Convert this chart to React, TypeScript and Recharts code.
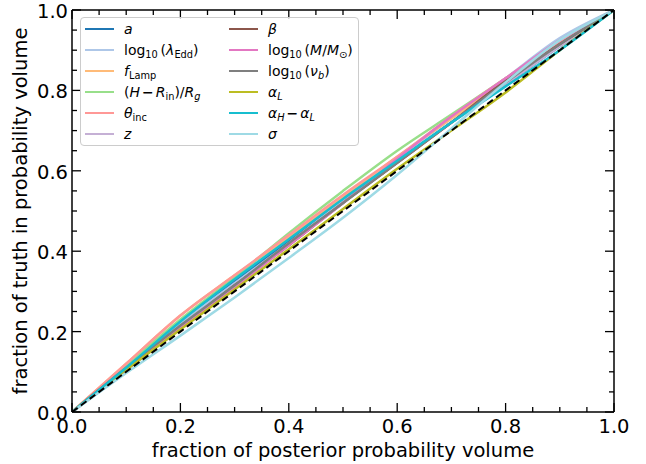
import React from 'react';
import { LineChart, Line, XAxis, YAxis, Legend } from 'recharts';

const xs = [0, 0.1, 0.2, 0.3, 0.4, 0.5, 0.6, 0.7, 0.8, 0.9, 1.0];
const diag = [0, 0.1, 0.2, 0.3, 0.4, 0.5, 0.6, 0.7, 0.8, 0.9, 1.0];
const sA = [0, 0.11, 0.22, 0.325, 0.425, 0.525, 0.625, 0.72, 0.815, 0.91, 1];
const sLam = [0, 0.11, 0.22, 0.32, 0.42, 0.525, 0.63, 0.73, 0.83, 0.93, 1];
const sFLamp = [0, 0.12, 0.24, 0.34, 0.435, 0.535, 0.635, 0.73, 0.825, 0.915, 1];
const sH = [0, 0.115, 0.23, 0.335, 0.445, 0.55, 0.65, 0.74, 0.83, 0.92, 1];
const sTheta = [0, 0.12, 0.24, 0.34, 0.44, 0.54, 0.635, 0.735, 0.83, 0.92, 1];
const sZ = [0, 0.105, 0.21, 0.315, 0.415, 0.52, 0.62, 0.72, 0.815, 0.91, 1];
const sBeta = [0, 0.105, 0.21, 0.315, 0.415, 0.52, 0.62, 0.72, 0.825, 0.915, 1];
const sLogM = [0, 0.105, 0.21, 0.31, 0.415, 0.52, 0.63, 0.735, 0.83, 0.925, 1];
const sNub = [0, 0.11, 0.215, 0.315, 0.42, 0.52, 0.62, 0.72, 0.82, 0.915, 1];
const sAlphaL = [0, 0.105, 0.205, 0.305, 0.405, 0.505, 0.605, 0.7, 0.795, 0.9, 1];
const sAlphaHL = [0, 0.11, 0.225, 0.33, 0.43, 0.53, 0.625, 0.72, 0.81, 0.9, 1];
const sSigma = [0, 0.097, 0.19, 0.285, 0.383, 0.483, 0.59, 0.705, 0.82, 0.925, 1];

const tickValues = [0, 0.05, 0.1, 0.15, 0.2, 0.25, 0.3, 0.35, 0.4, 0.45, 0.5, 0.55, 0.6, 0.65, 0.7, 0.75, 0.8, 0.85, 0.9, 0.95, 1.0];

const seriesKeys = ['a', 'lam', 'flamp', 'h', 'theta', 'z', 'beta', 'logm', 'nub', 'alphal', 'alphahl', 'sigma'];
const seriesArrays = [sA, sLam, sFLamp, sH, sTheta, sZ, sBeta, sLogM, sNub, sAlphaL, sAlphaHL, sSigma];
const colors = ['#1f77b4', '#aec7e8', '#ffbb78', '#98df8a', '#ff9896', '#c5b0d5', '#8c564b', '#e377c2', '#7f7f7f', '#bcbd22', '#17becf', '#9edae5'];

const data = xs.map((x, i) => {
  const row: any = { x, diag: diag[i] };
  seriesKeys.forEach((k, j) => { row[k] = seriesArrays[j][i]; });
  return row;
});

const FONT = '"DejaVu Sans", sans-serif';
const sub: React.CSSProperties = { fontSize: '0.7em', verticalAlign: '-0.3em', lineHeight: 0 };
const minus = <b style={{ margin: '0 2px' }}>−</b>;

const labels: React.ReactNode[] = [
  <i>a</i>,
  <span>log<span style={sub}>10</span>&#8201;(<i>λ</i><span style={sub}>Edd</span>)</span>,
  <span><i>f</i><span style={sub}>Lamp</span></span>,
  <span>(<i>H</i>{minus}<i>R</i><span style={sub}>in</span>)/<i>R</i><span style={sub}><i>g</i></span></span>,
  <span><i>θ</i><span style={sub}>inc</span></span>,
  <i>z</i>,
  <i>β</i>,
  <span>log<span style={sub}>10</span>&#8201;(<i>M</i>/<i>M</i><span style={sub}>⊙</span>)</span>,
  <span>log<span style={sub}>10</span>&#8201;(<i>ν</i><span style={sub}><i>b</i></span>)</span>,
  <span><i>α</i><span style={sub}><i>L</i></span></span>,
  <span><i>α</i><span style={sub}><i>H</i></span>{minus}<i>α</i><span style={sub}><i>L</i></span></span>,
  <i>σ</i>,
];

const isMajor = (v: number) => Math.abs(v * 5 - Math.round(v * 5)) < 1e-6;

const makeTick = (side: 'bottom' | 'top' | 'left' | 'right') => (props: any) => {
  const { x, y, payload } = props;
  const v = payload.value;
  const major = isMajor(v);
  const len = major ? 9 : 5;
  let line;
  if (side === 'bottom') line = <line x1={x} y1={y} x2={x} y2={y - len} stroke="#000" strokeWidth={1.3} />;
  else if (side === 'top') line = <line x1={x} y1={y} x2={x} y2={y + len} stroke="#000" strokeWidth={1.3} />;
  else if (side === 'left') line = <line x1={x} y1={y} x2={x + len} y2={y} stroke="#000" strokeWidth={1.3} />;
  else line = <line x1={x} y1={y} x2={x - len} y2={y} stroke="#000" strokeWidth={1.3} />;
  let text = null;
  if (major && side === 'bottom') {
    text = <text x={x} y={y + 21} textAnchor="middle" fontSize={19.5} fontFamily={FONT} fill="#000">{v.toFixed(1)}</text>;
  } else if (major && side === 'left') {
    text = <text x={x - 4} y={y + 8} textAnchor="end" fontSize={19.5} fontFamily={FONT} fill="#000">{v.toFixed(1)}</text>;
  }
  return <g>{line}{text}</g>;
};

const renderLegend = () => (
  <div style={{
    position: 'relative', width: 279, height: 129, boxSizing: 'border-box',
    border: '1px solid #cccccc', borderRadius: 4, background: 'rgba(255,255,255,0.8)',
    fontFamily: FONT, fontSize: 14, color: '#000',
  }}>
    {labels.map((lab, i) => {
      const col = i < 6 ? 0 : 1;
      const row = i % 6;
      const left = col === 0 ? 4 : 148;
      const top = 10.5 + row * 21;
      return (
        <div key={i} style={{ position: 'absolute', left, top: top - 10, height: 20, display: 'flex', alignItems: 'center', whiteSpace: 'nowrap' }}>
          <div style={{ width: 29, height: 0, borderTop: `2.5px solid ${colors[i]}`, marginRight: 10 }} />
          <span>{lab}</span>
        </div>
      );
    })}
  </div>
);

export default function App() {
  return (
    <div style={{ position: 'absolute', left: 0, top: 0, width: 646, height: 464, background: '#fff' }}>
      <LineChart width={646} height={464} data={data} margin={{ top: 0, right: 0, bottom: 0, left: 0 }}>
        <XAxis
          dataKey="x" type="number" domain={[0, 1]} ticks={tickValues} allowDataOverflow
          height={52} tickLine={false} tickSize={0} tickMargin={0} interval={0}
          axisLine={{ stroke: '#000', strokeWidth: 1.5 }} tick={makeTick('bottom')}
          label={{ value: 'fraction of posterior probability volume', position: 'insideBottom', offset: 7, style: { fontSize: 19.5, fontFamily: FONT, fill: '#000' } }}
        />
        <XAxis
          xAxisId="top" orientation="top" dataKey="x" type="number" domain={[0, 1]} ticks={tickValues} allowDataOverflow
          height={10} tickLine={false} tickSize={0} tickMargin={0} interval={0}
          axisLine={{ stroke: '#000', strokeWidth: 1.5 }} tick={makeTick('top')}
        />
        <YAxis
          type="number" domain={[0, 1]} ticks={tickValues} allowDataOverflow
          width={72} tickLine={false} tickSize={0} tickMargin={0} interval={0}
          axisLine={{ stroke: '#000', strokeWidth: 1.5 }} tick={makeTick('left')}
          label={{
            content: (p: any) => {
              const vb = p.viewBox || { x: 0, y: 0, width: 72, height: 402 };
              const cx = 20;
              const cy = vb.y + vb.height / 2;
              return (
                <text x={cx} y={cy} transform={`rotate(-90 ${cx} ${cy})`} textAnchor="middle" dominantBaseline="central" fontSize={19.5} fontFamily={FONT} fill="#000">
                  fraction of truth in probability volume
                </text>
              );
            },
          }}
        />
        <YAxis
          yAxisId="right" orientation="right" type="number" domain={[0, 1]} ticks={tickValues} allowDataOverflow
          width={32} tickLine={false} tickSize={0} tickMargin={0} interval={0}
          axisLine={{ stroke: '#000', strokeWidth: 1.5 }} tick={makeTick('right')}
        />
        <Legend layout="vertical" align="center" verticalAlign="middle" content={renderLegend}
          wrapperStyle={{ position: 'absolute', left: 80, top: 17, width: 279, height: 129 }} />
        {seriesKeys.map((k, i) => (
          <Line key={k} dataKey={k} type="monotone" stroke={colors[i]} strokeWidth={2.5} dot={false} isAnimationActive={false} />
        ))}
        <Line dataKey="diag" type="linear" stroke="#000" strokeWidth={2} strokeDasharray="7 4" dot={false} isAnimationActive={false} />
      </LineChart>
    </div>
  );
}
